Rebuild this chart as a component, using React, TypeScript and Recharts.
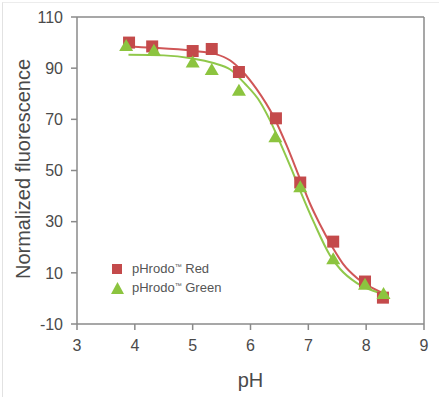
import React from 'react';
import {
  ComposedChart,
  XAxis,
  YAxis,
  Scatter,
  Line,
  Legend,
  Label,
  ReferenceLine,
} from 'recharts';

// Measured points
const redPH = [3.9, 4.3, 5.0, 5.33, 5.8, 6.44, 6.86, 7.43, 7.98, 8.29];
const redValues = [100, 98.5, 96.7, 97.5, 88.5, 70.4, 45.3, 22.2, 6.6, 0.3];
const greenPH = [3.85, 4.33, 5.0, 5.33, 5.8, 6.43, 6.86, 7.43, 7.98, 8.3];
const greenValues = [98.7, 96.8, 92.2, 89.3, 81.2, 63, 43.5, 15.3, 5.3, 1.7];

// Fitted curves
const redFitPH = [3.86, 4.3, 5.0, 5.4, 5.65, 5.85, 6.1, 6.4, 6.63, 6.86, 7.03, 7.2, 7.43, 7.6, 7.84, 8.07, 8.3];
const redFitValues = [98.5, 98, 96.8, 95.5, 93, 89, 82, 71, 59.5, 46.5, 37, 29, 19.5, 13.5, 8, 4.5, 2];
const greenFitPH = [3.89, 4.5, 5.0, 5.36, 5.65, 5.9, 6.16, 6.34, 6.51, 6.7, 6.88, 7.1, 7.37, 7.55, 7.84, 8.12, 8.33];
const greenFitValues = [95.2, 95, 93.8, 92, 89.5, 84, 77, 69.5, 61, 51, 41, 29.5, 17, 11.5, 6, 3, 1.5];

const xTicks = [3, 4, 5, 6, 7, 8, 9];
const yTicks = [-10, 10, 30, 50, 70, 90, 110];

const seriesNames = ['pHrodo™ Red', 'pHrodo™ Green'];

const zip = (xs: number[], ys: number[]) => xs.map((x, i) => ({ x, y: ys[i] }));
const redData = zip(redPH, redValues);
const greenData = zip(greenPH, greenValues);
const redFit = zip(redFitPH, redFitValues);
const greenFit = zip(greenFitPH, greenFitValues);

const FONT = '"Liberation Sans", Arial, Helvetica, sans-serif';
const RED = '#c44a4b';
const GREEN = '#8cc43f';
const RED_LINE = '#d05657';
const GREEN_LINE = '#90c84b';
const AXIS = '#8a8a8a';
const TEXT = '#4a4a4a';

const SquareShape = (props: any) => {
  const { cx, cy } = props;
  if (cx == null || cy == null) return null;
  return <rect x={cx - 6} y={cy - 6} width={12} height={12} fill={RED} />;
};

const TriangleShape = (props: any) => {
  const { cx, cy } = props;
  if (cx == null || cy == null) return null;
  return (
    <polygon
      points={`${cx},${cy - 7} ${cx + 7},${cy + 5} ${cx - 7},${cy + 5}`}
      fill={GREEN}
    />
  );
};

const renderName = (name: string) => {
  const parts = name.split('™');
  if (parts.length < 2) return name;
  return (
    <>
      {parts[0]}
      <span style={{ fontSize: 7, verticalAlign: 4 }}>™</span>
      {parts[1]}
    </>
  );
};

const renderLegend = (props: any) => {
  const payload = (props.payload || [])
    .filter((p: any) => p.type !== 'none')
    .slice()
    .sort((a: any, b: any) => seriesNames.indexOf(a.value) - seriesNames.indexOf(b.value));
  return (
    <div style={{ fontFamily: FONT, fontSize: 13, color: '#555' }}>
      {payload.map((p: any) => (
        <div key={p.value} style={{ display: 'flex', alignItems: 'center', height: 19 }}>
          <svg width={14} height={12} style={{ display: 'block' }}>
            {p.type === 'square' ? (
              <rect x={1} y={1} width={10} height={10} fill={RED} />
            ) : (
              <polygon points="6.5,0 13,12 0,12" fill={GREEN} />
            )}
          </svg>
          <span style={{ marginLeft: 7 }}>{renderName(p.value)}</span>
        </div>
      ))}
    </div>
  );
};

export default function App() {
  return (
    <div
      style={{
        position: 'absolute',
        left: 0,
        top: 0,
        width: 439,
        height: 397,
        background: '#fff',
      }}
    >
      <div
        style={{
          position: 'absolute',
          left: 2,
          top: 2,
          width: 437,
          height: 395,
          borderLeft: '1px solid #e2e2e2',
          borderTop: '1px solid #ececec',
        }}
      />
      <ComposedChart
        width={439}
        height={397}
        margin={{ top: 17, right: 15, left: 0, bottom: 0 }}
        style={{ position: 'absolute', left: 0, top: 0 }}
      >
        <XAxis
          type="number"
          dataKey="x"
          domain={[3, 9]}
          ticks={xTicks}
          allowDataOverflow
          height={73}
          stroke={AXIS}
          strokeWidth={1.5}
          tickSize={6}
          tickMargin={10}
          tick={{ fill: TEXT, fontSize: 16, fontFamily: FONT }}
          tickLine={{ stroke: AXIS, strokeWidth: 1.5 }}
        >
          <Label
            content={(p: any) => {
              const vb = p.viewBox || { x: 77, y: 324, width: 347 };
              return (
                <text
                  x={vb.x + vb.width / 2}
                  y={380}
                  textAnchor="middle"
                  dominantBaseline="central"
                  fill={TEXT}
                  fontSize={20}
                  fontFamily={FONT}
                >
                  pH
                </text>
              );
            }}
          />
        </XAxis>
        <YAxis
          type="number"
          dataKey="y"
          domain={[-10, 110]}
          ticks={yTicks}
          allowDataOverflow
          width={77}
          stroke={AXIS}
          strokeWidth={1.5}
          tickSize={6}
          tickMargin={8}
          tick={{ fill: TEXT, fontSize: 16, fontFamily: FONT }}
          tickLine={{ stroke: AXIS, strokeWidth: 1.5 }}
        >
          <Label
            content={() => (
              <text
                x={23}
                y={169}
                transform="rotate(-90 23 169)"
                textAnchor="middle"
                dominantBaseline="central"
                fill={TEXT}
                fontSize={20}
                fontFamily={FONT}
              >
                Normalized fluorescence
              </text>
            )}
          />
        </YAxis>
        <ReferenceLine y={110} stroke={AXIS} strokeWidth={1.5} />
        <ReferenceLine x={9} stroke={AXIS} strokeWidth={1.5} />
        <Line
          data={redFit}
          dataKey="y"
          type="monotone"
          stroke={RED_LINE}
          strokeWidth={2}
          dot={false}
          activeDot={false}
          legendType="none"
          isAnimationActive={false}
        />
        <Line
          data={greenFit}
          dataKey="y"
          type="monotone"
          stroke={GREEN_LINE}
          strokeWidth={2}
          dot={false}
          activeDot={false}
          legendType="none"
          isAnimationActive={false}
        />
        <Scatter
          name={seriesNames[0]}
          data={redData}
          dataKey="y"
          fill={RED}
          legendType="square"
          shape={SquareShape}
          isAnimationActive={false}
        />
        <Scatter
          name={seriesNames[1]}
          data={greenData}
          dataKey="y"
          fill={GREEN}
          legendType="triangle"
          shape={TriangleShape}
          isAnimationActive={false}
        />
        <Legend
          content={renderLegend}
          layout="vertical"
          align="center"
          verticalAlign="middle"
          wrapperStyle={{ left: 111, top: 259, width: 'auto' }}
        />
      </ComposedChart>
    </div>
  );
}
